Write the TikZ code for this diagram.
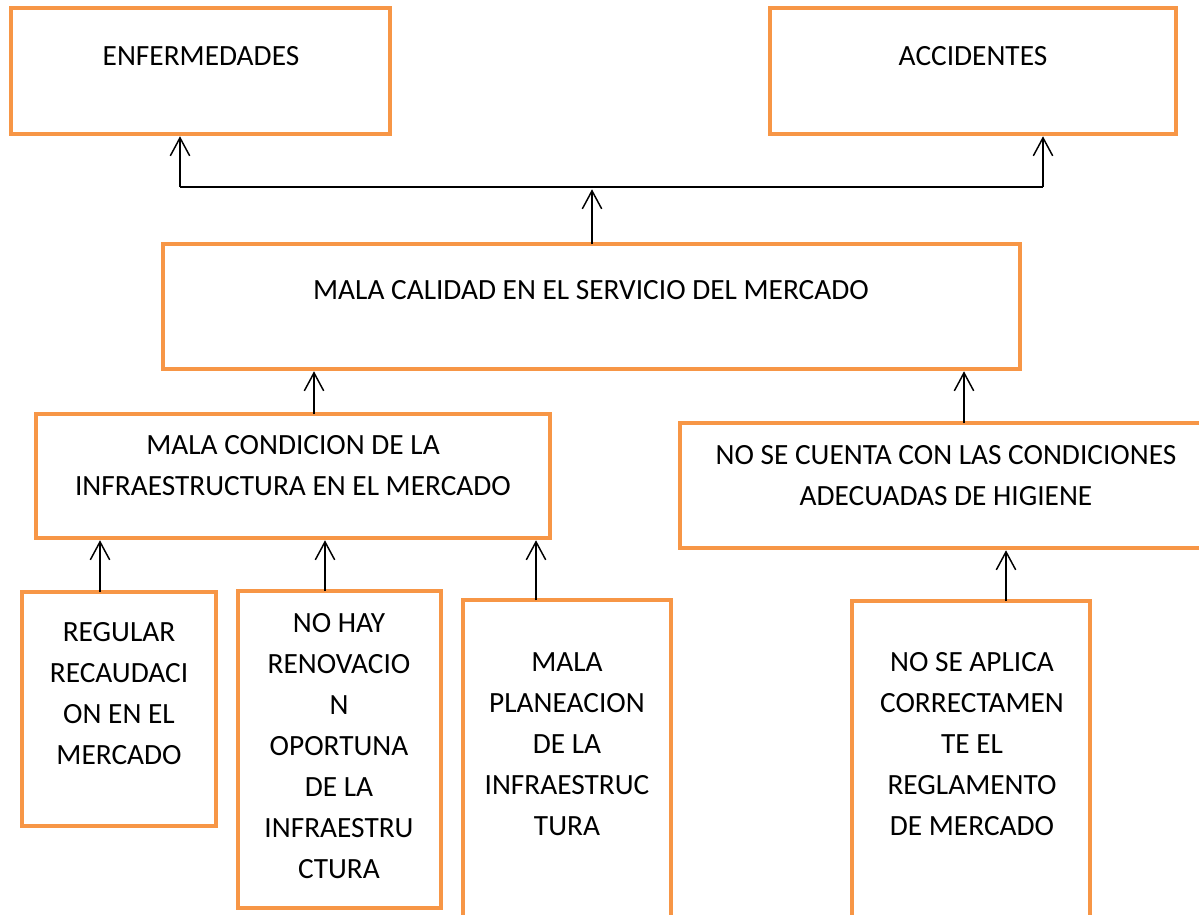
\documentclass[tikz,border=0pt]{standalone}
\usepackage{fontspec}
\setmainfont{Carlito}
\usetikzlibrary{arrows.meta}
\definecolor{boxorange}{HTML}{F79646}
\begin{document}
\begin{tikzpicture}[x=0.75pt,y=-0.75pt,
  box/.style={draw=boxorange, line width=3.4pt, inner sep=0pt, outer sep=0pt},
  lbl/.style={align=center, inner sep=0pt, font=\fontsize{22}{30.75}\selectfont},
  arr/.style={line width=1.1pt, shorten >=1.7pt, -{Straight Barb[length=13.5pt,width=14.5pt,line width=1.1pt]}},
  conn/.style={line width=1.1pt}]
\useasboundingbox (0,0) rectangle (1199,914);
\clip (0,0) rectangle (1199,914);
\fill[white] (0,0) rectangle (1199,914);

% boxes
\node[box, minimum width=284.25pt, minimum height=94.5pt] (enf) at (200.5,71) {};
\node[box, minimum width=304.5pt, minimum height=94.5pt] (acc) at (973,71) {};
\node[box, minimum width=642.75pt, minimum height=93.75pt] (mc) at (591.5,306.5) {};
\node[box, minimum width=385.5pt, minimum height=93pt] (cond) at (293,476) {};
\node[box, minimum width=399pt, minimum height=93.75pt] (hig) at (946,485.5) {};
\node[box, minimum width=145.5pt, minimum height=175.5pt] (reg) at (119,709) {};
\node[box, minimum width=152.25pt, minimum height=237.75pt] (nohay) at (339.5,749.5) {};
\node[box, minimum width=156pt, minimum height=270pt] (plan) at (567,780) {};
\node[box, minimum width=178.5pt, minimum height=269.25pt] (apl) at (971,780.5) {};

% texts
\node[lbl] (tenf) at (201,56) {ENFERMEDADES};
\node[lbl] (tacc) at (973,56) {ACCIDENTES};
\node[lbl] (tmc) at (591,290) {MALA CALIDAD EN EL SERVICIO DEL MERCADO};
\node[lbl] (tcond) at (293,465.5) {MALA CONDICION DE LA\\INFRAESTRUCTURA EN EL MERCADO};
\node[lbl] (thig) at (946,475.5) {NO SE CUENTA CON LAS CONDICIONES\\ADECUADAS DE HIGIENE};
\node[lbl] (treg) at (119,694) {REGULAR\\RECAUDACI\\ON EN EL\\MERCADO};
\node[lbl] (tnohay) at (339,746.5) {NO HAY\\RENOVACIO\\N\\OPORTUNA\\DE LA\\INFRAESTRU\\CTURA};
\node[lbl] (tplan) at (567,744.5) {MALA\\PLANEACION\\DE LA\\INFRAESTRUC\\TURA};
\node[lbl] (tapl) at (972,744.5) {NO SE APLICA\\CORRECTAMEN\\TE EL\\REGLAMENTO\\DE MERCADO};

% junction coordinates
\coordinate (jL) at (180,187);
\coordinate (jR) at (1043,187);
\coordinate (jM) at (592,187);
\coordinate (x1) at (314,0);
\coordinate (x2) at (964,0);
\coordinate (x3) at (100,0);
\coordinate (x4) at (325,0);
\coordinate (x5) at (536,0);
\coordinate (x6) at (1006,0);

% connectors
\draw[conn] (jL) -- (jR);
\draw[arr] (jL) -- (jL |- enf.south);
\draw[arr] (jR) -- (jR |- acc.south);
\draw[arr] (jM |- mc.north) -- (jM);
\draw[arr] (x1 |- cond.north) -- (x1 |- mc.south);
\draw[arr] (x2 |- hig.north) -- (x2 |- mc.south);
\draw[arr] (x3 |- reg.north) -- (x3 |- cond.south);
\draw[arr] (x4 |- nohay.north) -- (x4 |- cond.south);
\draw[arr] (x5 |- plan.north) -- (x5 |- cond.south);
\draw[arr] (x6 |- apl.north) -- (x6 |- hig.south);
\end{tikzpicture}
\end{document}
